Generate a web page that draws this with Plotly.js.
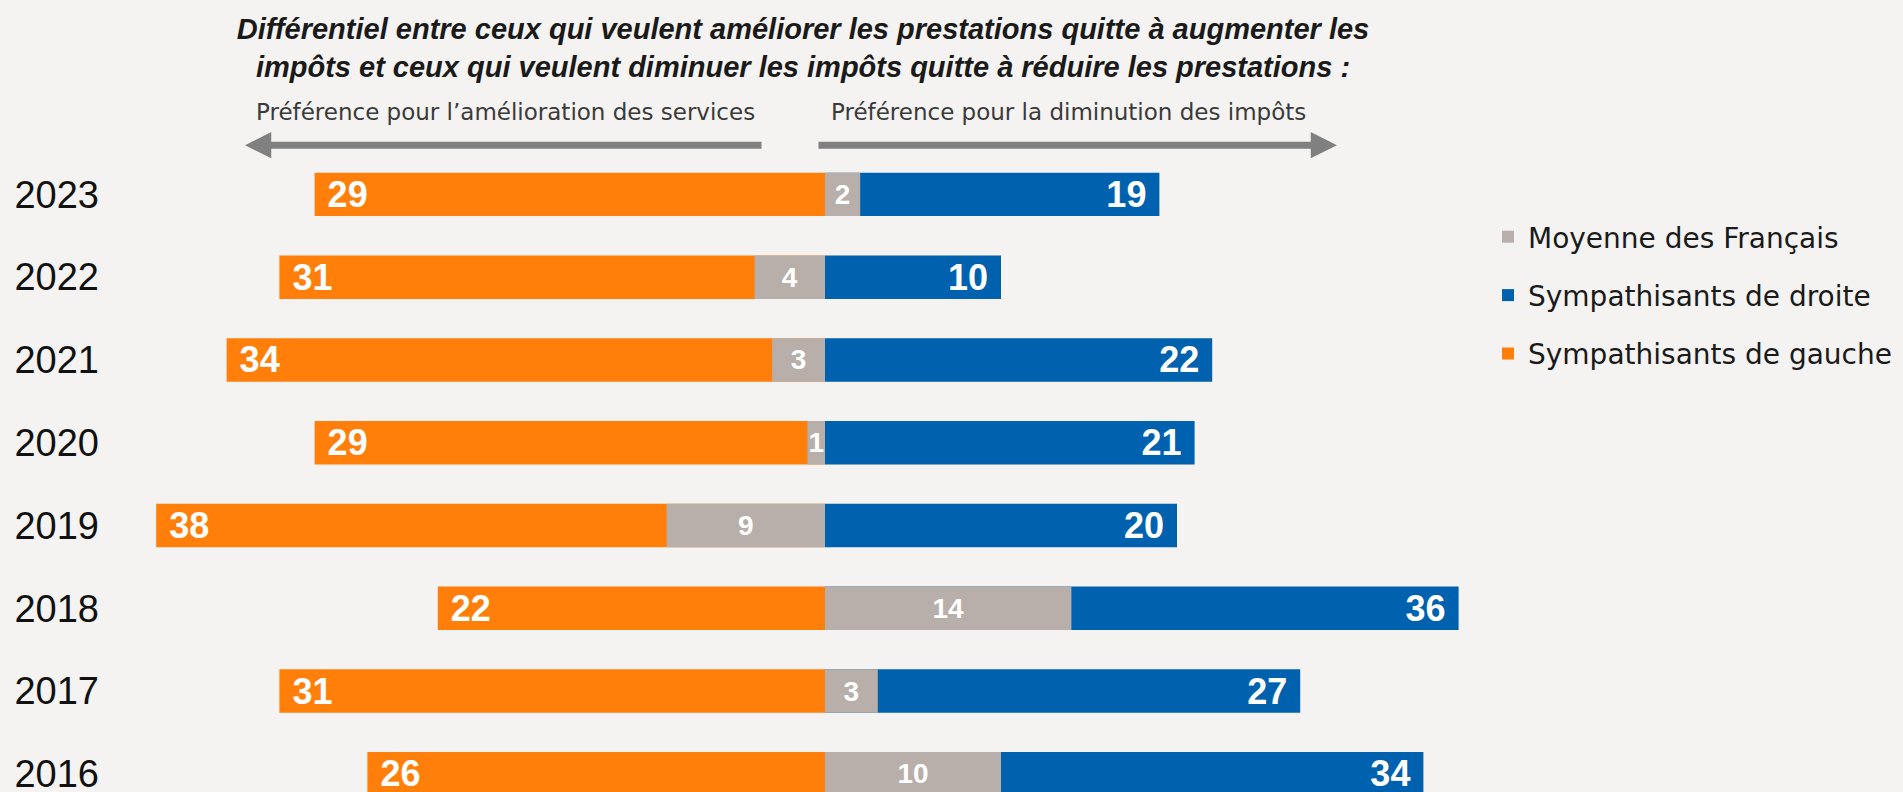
<!DOCTYPE html>
<html>
<head>
<meta charset="utf-8">
<script src="https://cdn.plot.ly/plotly-3.0.1.min.js"></script>
<style>
  html, body { margin: 0; padding: 0; background: #F4F3F1; }
  #chart { width: 1903px; height: 792px; }
</style>
</head>
<body>
<div id="chart"></div>
<script>
// ---- Data ----
const years   = ['2023', '2022', '2021', '2020', '2019', '2018', '2017', '2016'];
const gauche  = [29, 31, 34, 29, 38, 22, 31, 26];   // Sympathisants de gauche
const droite  = [19, 10, 22, 21, 20, 36, 27, 34];   // Sympathisants de droite
const moyenne = [2, -4, -3, -1, -9, 14, 3, 10];     // Moyenne des Français (signed)

const seriesNames = ['Sympathisants de gauche', 'Sympathisants de droite', 'Moyenne des Français'];
const titleLines = [
  'Différentiel entre ceux qui veulent améliorer les prestations quitte à augmenter les',
  'impôts et ceux qui veulent diminuer les impôts quitte à réduire les prestations :'
];
const arrowLabels = ['Préférence pour l’amélioration des services', 'Préférence pour la diminution des impôts'];

// ---- Styles ----
const ORANGE = '#FF7F0A', BLUE = '#0061AE', GREY = '#B8AFAA', BG = '#F4F3F1';
const NB = '\u00a0';

const labelFont = {family: 'Liberation Sans, Arial, sans-serif', size: 36, color: '#FFFFFF', weight: 'bold'};

const traces = [
  {
    type: 'bar', orientation: 'h', name: seriesNames[0], legendgroup: 'g', legendrank: 3,
    y: years, x: gauche.map(v => -v),
    marker: {color: ORANGE},
    text: gauche.map(v => NB + v), textposition: 'inside', insidetextanchor: 'end',
    textangle: 0, constraintext: 'none', textfont: labelFont
  },
  {
    type: 'bar', orientation: 'h', name: seriesNames[1], legendgroup: 'd', legendrank: 2,
    y: years, x: droite,
    marker: {color: BLUE},
    text: droite.map(v => v + NB), textposition: 'inside', insidetextanchor: 'end',
    textangle: 0, constraintext: 'none', textfont: labelFont
  },
  {
    type: 'bar', orientation: 'h', name: seriesNames[2], legendgroup: 'm', legendrank: 1,
    y: years, x: moyenne,
    marker: {color: GREY},
    text: moyenne.map(v => String(Math.abs(v))), textposition: 'inside', insidetextanchor: 'middle',
    textangle: 0, constraintext: 'none',
    textfont: {family: 'Liberation Sans, Arial, sans-serif', size: 28, color: '#FFFFFF', weight: 'bold'}
  }
];

// plot-area geometry
const W = 1903, H = 792;
const L = 100, R = 1480, T = 152.8;
const zeroPx = 825, pxPerUnit = 17.6;
const xmin = -(zeroPx - L) / pxPerUnit, xmax = (R - zeroPx) / pxPerUnit;
const paperX = px => (px - L) / (R - L);
const paperY = py => 1 + (T - py) / (H - T);

const layout = {
  width: W, height: H,
  paper_bgcolor: BG, plot_bgcolor: BG,
  margin: {l: L, r: W - R, t: T, b: 0, autoexpand: false},
  barmode: 'overlay', bargap: 0.475,
  hovermode: false,
  title: {
    text: titleLines.join('<br>'),
    font: {family: 'Liberation Sans, Arial, sans-serif', size: 29, color: '#1A1A1A', weight: 'bold', style: 'italic'},
    x: 803 / W, xref: 'container', xanchor: 'center',
    y: 1 - 39 / H, yref: 'container', yanchor: 'top'
  },
  xaxis: {range: [xmin, xmax], showticklabels: false, showgrid: false, zeroline: false, showline: false, fixedrange: true},
  yaxis: {
    type: 'category', categoryorder: 'array', categoryarray: years,
    range: [7.22, -0.5], showgrid: false, zeroline: false, showline: false, ticks: '',
    tickfont: {family: 'Liberation Sans, Arial, sans-serif', size: 38, color: '#111111'},
    fixedrange: true
  },
  showlegend: true,
  legend: {
    xref: 'container', yref: 'container', x: 1488 / W, y: 1 - 212 / H, xanchor: 'left', yanchor: 'top',
    traceorder: 'grouped', tracegroupgap: 19,
    font: {family: 'DejaVu Sans, sans-serif', size: 28, color: '#1A1A1A'},
    bgcolor: 'rgba(0,0,0,0)'
  },
  annotations: [
    // arrows
    {xref: 'paper', yref: 'paper', x: paperX(245), y: paperY(145), ax: 763 - 245, ay: 0,
     text: '', showarrow: true, arrowhead: 2, arrowsize: 0.75, arrowwidth: 7, arrowcolor: '#808080'},
    {xref: 'paper', yref: 'paper', x: paperX(1337), y: paperY(145), ax: 817 - 1337, ay: 0,
     text: '', showarrow: true, arrowhead: 2, arrowsize: 0.75, arrowwidth: 7, arrowcolor: '#808080'},
    // arrow labels
    {xref: 'paper', yref: 'paper', x: paperX(505), y: paperY(112), xanchor: 'center', yanchor: 'middle',
     text: arrowLabels[0], showarrow: false,
     font: {family: 'DejaVu Sans, sans-serif', size: 23, color: '#3A3A3A'}},
    {xref: 'paper', yref: 'paper', x: paperX(1068), y: paperY(112), xanchor: 'center', yanchor: 'middle',
     text: arrowLabels[1], showarrow: false,
     font: {family: 'DejaVu Sans, sans-serif', size: 23, color: '#3A3A3A'}}
  ]
};

Plotly.newPlot('chart', traces, layout, {displayModeBar: false, staticPlot: true});
</script>
</body>
</html>
